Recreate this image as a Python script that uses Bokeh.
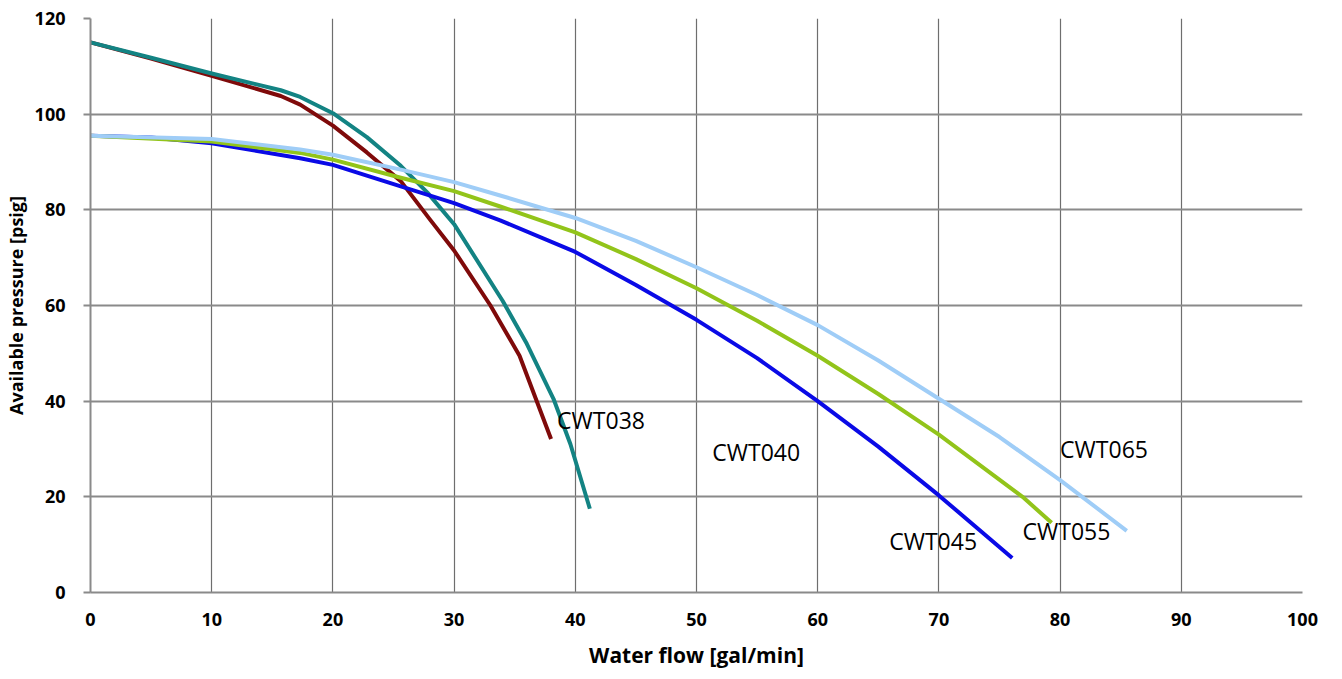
from bokeh.plotting import figure
from bokeh.models import Range1d, FixedTicker
from bokeh.core.properties import value
from bokeh.embed import file_html
from bokeh.resources import INLINE

# Data
cwt038_x = [0, 5, 10, 15.7, 17.3, 20, 22.8, 25.6, 28, 30, 33, 35.4, 38]
cwt038_y = [115, 111.6, 108, 103.8, 102, 97.6, 92, 86, 78, 71.5, 60, 49.5, 32.1]

cwt040_x = [0, 5, 10, 15.7, 17.3, 20, 22.8, 25.6, 27.8, 30, 34, 36, 38.2, 39.6, 41.2]
cwt040_y = [115, 111.8, 108.5, 105, 103.6, 100.2, 95.2, 89.2, 83.6, 77, 61, 52, 40.5, 31, 17.5]

cwt045_x = [0, 5, 10, 17.3, 20, 25.6, 30, 33.8, 40, 45, 50, 55, 60, 65, 70, 76.05]
cwt045_y = [95.5, 95.1, 93.9, 90.8, 89.4, 84.9, 81.4, 77.8, 71.2, 64.3, 57, 49, 40, 30.5, 20.3, 7.2]

cwt055_x = [0, 10, 17.3, 20, 25.6, 30, 33.8, 40, 45, 50, 55, 60, 65, 70, 76.9, 79.3]
cwt055_y = [95.5, 94.3, 91.9, 90.5, 86.7, 83.9, 80.7, 75.3, 69.7, 63.6, 56.8, 49.5, 41.5, 33, 20, 14.6]

cwt065_x = [0, 10, 17.3, 20, 25.6, 30, 33.8, 40, 45, 50, 55, 60, 65, 70, 75, 80, 85.5]
cwt065_y = [95.5, 94.8, 92.6, 91.5, 88.4, 85.8, 83, 78.3, 73.5, 68, 62.2, 55.9, 48.5, 40.5, 32.5, 23.5, 12.9]

label_names = ["CWT038", "CWT040", "CWT045", "CWT055", "CWT065"]
label_x = [38.5, 51.3, 65.9, 76.9, 80.0]
label_y = [36, 29.3, 10.7, 12.8, 29.9]

x_ticks = [0, 10, 20, 30, 40, 50, 60, 70, 80, 90, 100]
y_ticks = [0, 20, 40, 60, 80, 100, 120]

p = figure(width=1334, height=671, output_backend="svg", toolbar_location=None,
           x_range=Range1d(0, 100), y_range=Range1d(0, 120),
           min_border_left=90, min_border_right=32, min_border_top=18, min_border_bottom=79)

p.outline_line_color = None
p.background_fill_color = "white"

p.xgrid.ticker = FixedTicker(ticks=x_ticks)
p.ygrid.ticker = FixedTicker(ticks=y_ticks)
p.xgrid.grid_line_color = "#6e6e6e"
p.xgrid.grid_line_width = 1.2
p.ygrid.grid_line_color = "#8a8a8a"
p.ygrid.grid_line_width = 2

for ax in (p.xaxis[0], p.yaxis[0]):
    ax.axis_line_color = "#8a8a8a"
    ax.axis_line_width = 2
    ax.major_tick_line_color = "#8a8a8a"
    ax.major_tick_line_width = 2
    ax.major_tick_in = 0
    ax.major_tick_out = 7
    ax.minor_tick_line_color = None
    ax.major_label_text_font = "Open Sans"
    ax.major_label_text_font_style = "bold"
    ax.major_label_text_font_size = "18px"
    ax.major_label_text_color = "black"
    ax.axis_label_text_font = "Open Sans"
    ax.axis_label_text_font_style = "bold"
    ax.axis_label_text_font_size = "18px"
    ax.axis_label_text_color = "black"

p.xaxis[0].ticker = FixedTicker(ticks=x_ticks)
p.yaxis[0].ticker = FixedTicker(ticks=y_ticks)
p.xaxis[0].axis_label = "Water flow [gal/min]"
p.yaxis[0].axis_label = "Available pressure [psig]"
p.xaxis[0].axis_label_text_font_size = "21px"
p.xaxis[0].major_tick_line_color = None
p.xaxis[0].major_tick_out = 0
p.xaxis[0].major_label_standoff = 20
p.xaxis[0].axis_label_standoff = 12
p.yaxis[0].major_label_standoff = 18
p.yaxis[0].axis_label_standoff = 4

lw = 4
p.line(cwt038_x, cwt038_y, line_color="#7f0a0a", line_width=lw, line_join="round")
p.line(cwt040_x, cwt040_y, line_color="#138383", line_width=lw, line_join="round")
p.line(cwt045_x, cwt045_y, line_color="#0a0ae6", line_width=lw, line_join="round")
p.line(cwt055_x, cwt055_y, line_color="#92c41a", line_width=lw, line_join="round")
p.line(cwt065_x, cwt065_y, line_color="#9fcdf7", line_width=lw, line_join="round")

p.text(x=label_x, y=label_y, text=label_names, text_font=value("Open Sans"),
       text_font_size="23px", text_color="black", text_align="left",
       text_baseline="middle")

open("out.html", "w").write(file_html(p, INLINE))
